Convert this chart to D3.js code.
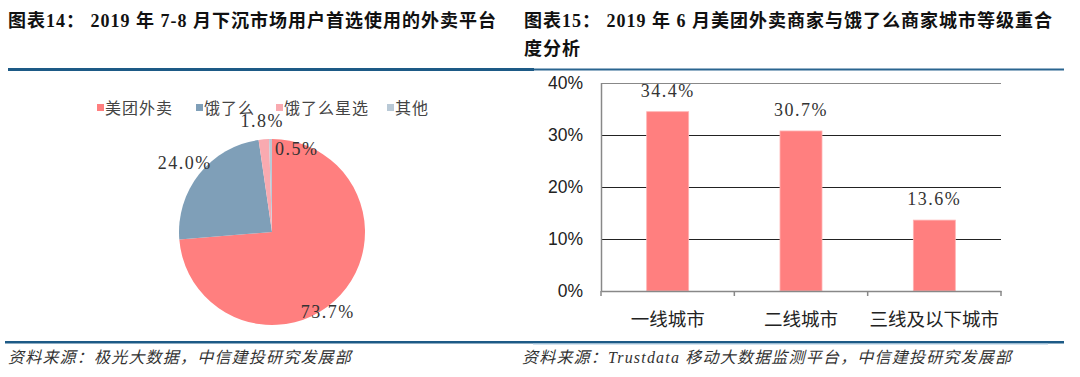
<!DOCTYPE html>
<html>
<head>
<meta charset="utf-8">
<script src="https://cdn.jsdelivr.net/npm/d3@7"></script>
<style>
  body { margin: 0; background: #fff; }
  svg { display: block; }
</style>
</head>
<body>
<div id="chart"></div>
<script>
//// data
var pieNames = ["美团外卖", "饿了么", "饿了么星选", "其他"];
var pieValues = [73.7, 24.0, 1.8, 0.5];
var pieColors = ["#ff7f7f", "#7f9fb8", "#f9aab0", "#b9c9d6"];

var barCats = ["一线城市", "二线城市", "三线及以下城市"];
var barValues = [34.4, 30.7, 13.6];
var yTicks = [0, 10, 20, 30, 40];

var titleLeft = "图表14： 2019 年 7-8 月下沉市场用户首选使用的外卖平台";
var titleRight = ["图表15： 2019 年 6 月美团外卖商家与饿了么商家城市等级重合", "度分析"];
var srcLeft = "资料来源：极光大数据，中信建投研究发展部";
var srcRight = "资料来源：Trustdata 移动大数据监测平台，中信建投研究发展部";

//// page
var W = 1080, H = 377;
var svg = d3.select("#chart").append("svg")
  .attr("width", W)
  .attr("height", H);

var titleFont = "'Liberation Serif', 'Noto Sans CJK SC', serif";
var numFont = "'Liberation Serif', 'Noto Serif', serif";
var cjkFont = "'Liberation Sans', 'Noto Sans CJK SC', sans-serif";

// titles
svg.append("text")
  .attr("x", 8).attr("y", 27)
  .style("font-family", titleFont).style("font-size", "18px").style("font-weight", "bold")
  .style("letter-spacing", "1px")
  .attr("fill", "#111")
  .text(titleLeft);

svg.selectAll(".tr")
  .data(titleRight)
  .enter().append("text")
  .attr("class", "tr")
  .attr("x", 524).attr("y", function(d, i) { return 27 + i * 28; })
  .style("font-family", titleFont).style("font-size", "18px").style("font-weight", "bold")
  .style("letter-spacing", "1px")
  .attr("fill", "#111")
  .text(function(d) { return d; });

// rules
svg.append("rect").attr("x", 8).attr("y", 68).attr("width", 526).attr("height", 3).attr("fill", "#1d5a86");
svg.append("rect").attr("x", 534).attr("y", 68.5).attr("width", 530).attr("height", 2).attr("fill", "#2a6590");
svg.append("rect").attr("x", 5).attr("y", 341).attr("width", 1059).attr("height", 2.5).attr("fill", "#1d5a86");
svg.append("rect").attr("x", 533).attr("y", 343.5).attr("width", 515).attr("height", 1).attr("fill", "#a8c8e0");

// sources
svg.selectAll(".src")
  .data([srcLeft, srcRight])
  .enter().append("text")
  .attr("class", "src")
  .attr("x", function(d, i) { return i ? 522 : 8; })
  .attr("y", 363)
  .style("font-family", titleFont).style("font-size", "16px").style("font-style", "italic")
  .style("letter-spacing", "1.2px")
  .attr("fill", "#333")
  .text(function(d) { return d; });

//// pie
var cx = 272, cy = 232, R = 93;
var pie = d3.pie().sort(null).value(function(d) { return d; });
var arcs = pie(pieValues);
var arc = d3.arc().innerRadius(0).outerRadius(R);

var gPie = svg.append("g").attr("transform", "translate(" + cx + "," + cy + ")");
gPie.selectAll("path")
  .data(arcs)
  .enter().append("path")
  .attr("d", arc)
  .attr("fill", function(d, i) { return pieColors[i]; });

// label placement, excel style nudges
var labelR = [1.05, 1.2, 1.2, 0.9];
var labelNudge = [[-16, 14], [0, 0], [0, 0], [26, 0]];
gPie.selectAll(".pl")
  .data(arcs)
  .enter().append("text")
  .attr("class", "pl")
  .attr("transform", function(d, i) {
    var a = (d.startAngle + d.endAngle) / 2;
    var r = R * labelR[i];
    return "translate(" + (Math.sin(a) * r + labelNudge[i][0]) + "," + (-Math.cos(a) * r + labelNudge[i][1]) + ")";
  })
  .attr("text-anchor", "middle").attr("dy", "0.35em")
  .style("font-family", numFont).style("font-size", "18px").style("letter-spacing", "1.5px")
  .attr("fill", "#333")
  .text(function(d) { return d3.format(".1f")(d.data) + "%"; });

// legend
var legX = d3.scaleOrdinal().domain(pieNames).range([97, 196, 276, 387]);
var leg = svg.selectAll(".leg")
  .data(pieNames)
  .enter().append("g")
  .attr("class", "leg")
  .attr("transform", function(d) { return "translate(" + legX(d) + ",108)"; });
leg.append("rect").attr("x", 0).attr("y", -4).attr("width", 7).attr("height", 7)
  .attr("fill", function(d, i) { return pieColors[i]; });
leg.append("text").attr("x", 8).attr("dy", "0.35em")
  .style("font-family", cjkFont).style("font-size", "16px").style("letter-spacing", "1px")
  .attr("fill", "#444")
  .text(function(d) { return d; });

//// bars
var plot = {left: 601, right: 1001, top: 82.5, bottom: 291};
var x = d3.scaleBand().domain(barCats).range([plot.left, plot.right]);
var y = d3.scaleLinear().domain([0, 40]).range([plot.bottom, plot.top]);

var gBar = svg.append("g");

gBar.selectAll(".grid")
  .data(yTicks.filter(function(t) { return t > 0; }))
  .enter().append("line")
  .attr("class", "grid")
  .attr("x1", plot.left).attr("x2", plot.right)
  .attr("y1", function(d) { return Math.round(y(d)) + 0.5; })
  .attr("y2", function(d) { return Math.round(y(d)) + 0.5; })
  .attr("stroke", function(d) { return d === 40 ? "#888" : "#222"; })
  .attr("stroke-width", 1);

gBar.selectAll(".bar")
  .data(barValues)
  .enter().append("rect")
  .attr("class", "bar")
  .attr("x", function(d, i) { return x(barCats[i]) + x.bandwidth() / 2 - 21; })
  .attr("width", 42)
  .attr("y", function(d) { return y(d); })
  .attr("height", function(d) { return plot.bottom - y(d); })
  .attr("fill", "#ff7f7f")
  .attr("stroke", "#ffb3b3").attr("stroke-width", 0.8);

// axes
var yAxis = gBar.append("g")
  .attr("transform", "translate(" + plot.left + ",0)")
  .call(d3.axisLeft(y).tickValues(yTicks).tickSize(0).tickPadding(18).tickFormat(function(d) { return d + "%"; }));
yAxis.select(".domain").attr("stroke", "#888").attr("stroke-width", 1.5);
yAxis.selectAll("text")
  .style("font-family", "'Liberation Sans', Arial, sans-serif").style("font-size", "17.5px")
  .attr("fill", "#222");

var xAxis = gBar.append("g")
  .attr("transform", "translate(0," + plot.bottom + ")")
  .call(d3.axisBottom(x).tickSize(0).tickPadding(22));
xAxis.select(".domain").attr("stroke", "#888").attr("stroke-width", 1.5);
xAxis.selectAll("text")
  .style("font-family", cjkFont).style("font-size", "18.5px")
  .attr("fill", "#222");

// category boundary ticks
gBar.selectAll(".ctick")
  .data(x.domain().concat(["end"]))
  .enter().append("line")
  .attr("class", "ctick")
  .attr("x1", function(d) { return d === "end" ? plot.right : x(d); })
  .attr("x2", function(d) { return d === "end" ? plot.right : x(d); })
  .attr("y1", plot.bottom).attr("y2", plot.bottom + 5)
  .attr("stroke", "#888").attr("stroke-width", 1.5);

// value labels
gBar.selectAll(".vl")
  .data(barValues)
  .enter().append("text")
  .attr("class", "vl")
  .attr("x", function(d, i) { return x(barCats[i]) + x.bandwidth() / 2; })
  .attr("y", function(d) { return y(d) - 15; })
  .attr("text-anchor", "middle")
  .style("font-family", numFont).style("font-size", "18px").style("letter-spacing", "1.5px")
  .attr("fill", "#333")
  .text(function(d) { return d3.format(".1f")(d) + "%"; });
</script>
</body>
</html>
